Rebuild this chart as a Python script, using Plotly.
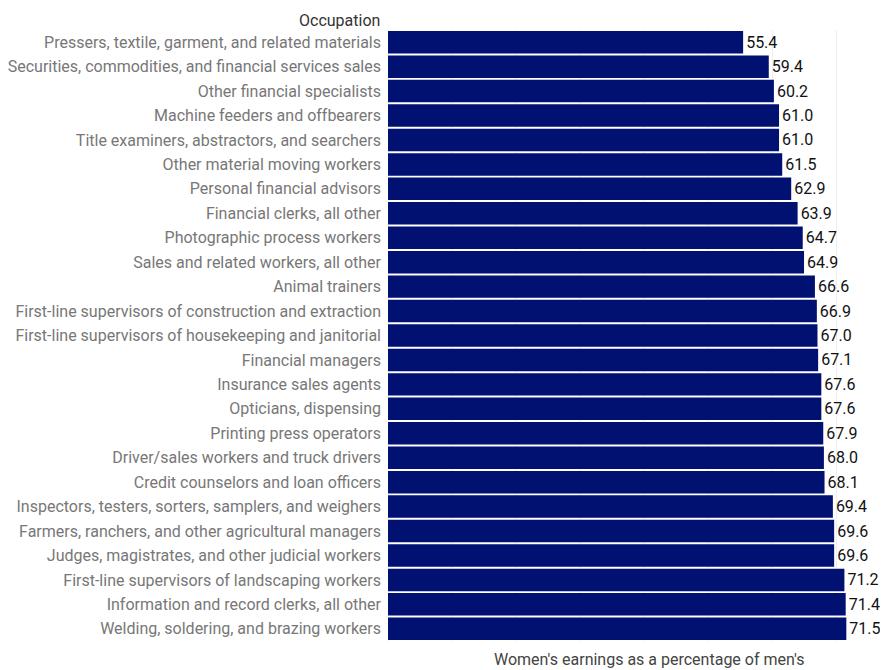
import plotly.graph_objects as go

occupations = [
    "Pressers, textile, garment, and related materials",
    "Securities, commodities, and financial services sales",
    "Other financial specialists",
    "Machine feeders and offbearers",
    "Title examiners, abstractors, and searchers",
    "Other material moving workers",
    "Personal financial advisors",
    "Financial clerks, all other",
    "Photographic process workers",
    "Sales and related workers, all other",
    "Animal trainers",
    "First-line supervisors of construction and extraction",
    "First-line supervisors of housekeeping and janitorial",
    "Financial managers",
    "Insurance sales agents",
    "Opticians, dispensing",
    "Printing press operators",
    "Driver/sales workers and truck drivers",
    "Credit counselors and loan officers",
    "Inspectors, testers, sorters, samplers, and weighers",
    "Farmers, ranchers, and other agricultural managers",
    "Judges, magistrates, and other judicial workers",
    "First-line supervisors of landscaping workers",
    "Information and record clerks, all other",
    "Welding, soldering, and brazing workers",
]
values = [55.4, 59.4, 60.2, 61.0, 61.0, 61.5, 62.9, 63.9, 64.7, 64.9,
          66.6, 66.9, 67.0, 67.1, 67.6, 67.6, 67.9, 68.0, 68.1, 69.4,
          69.6, 69.6, 71.2, 71.4, 71.5]

x_title = "Women's earnings as a percentage of men's"
y_title = "Occupation"

fig = go.Figure(go.Bar(
    x=values,
    y=occupations,
    orientation="h",
    marker=dict(color="#001172", line=dict(width=0)),
    text=[f"{v:.1f}" for v in values],
    textposition="outside",
    textfont=dict(family="Roboto", size=16, color="#111"),
    cliponaxis=False,
))

fig.update_layout(
    width=880, height=662,
    margin=dict(l=380, r=0, t=22, b=29, autoexpand=False),
    paper_bgcolor="white", plot_bgcolor="white",
    font=dict(family="Roboto", size=16, color="#777"),
    bargap=0.08,
    showlegend=False,
    xaxis=dict(range=[0, 78], dtick=10, showticklabels=False,
               showgrid=True, gridcolor="#eeeeee", gridwidth=1,
               zeroline=True, zerolinecolor="#eeeeee", zerolinewidth=1,
               showline=False, fixedrange=True),
    yaxis=dict(autorange="reversed", showgrid=False, showline=False,
               ticks="", ticklabelstandoff=6,
               tickfont=dict(family="Roboto", size=16, color="#777")),
    annotations=[
        dict(text=y_title, xref="paper", yref="paper", x=0, y=1,
             xanchor="right", yanchor="bottom", xshift=-6, yshift=-2,
             showarrow=False, font=dict(family="Roboto", size=16, color="#333")),
        dict(text=x_title, xref="paper", yref="paper", x=0.522, y=0,
             xanchor="center", yanchor="top", yshift=-7,
             showarrow=False, font=dict(family="Roboto", size=16, color="#444")),
    ],
)

fig.write_html("out.html")
